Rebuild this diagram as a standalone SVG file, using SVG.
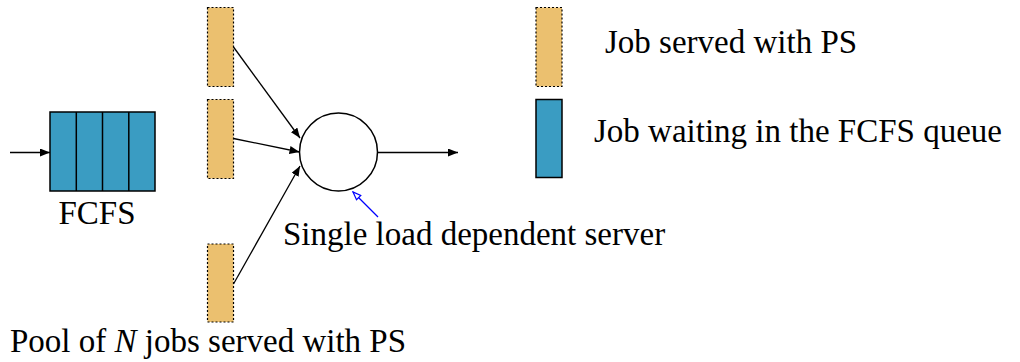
<svg xmlns="http://www.w3.org/2000/svg" width="1020" height="362" viewBox="0 0 1020 362">
<defs>
<marker id="ah" viewBox="0 0 10 8" refX="10" refY="4" markerWidth="10" markerHeight="8" markerUnits="userSpaceOnUse" orient="auto">
<path d="M0,0 L10,4 L0,8 Z" fill="#000"/>
</marker>
<marker id="oh" viewBox="0 0 10 8" refX="9" refY="4" markerWidth="10" markerHeight="8" markerUnits="userSpaceOnUse" orient="auto">
<path d="M1,1 L9,4 L1,7 Z" fill="#fff" stroke="#00f" stroke-width="1.2"/>
</marker>
</defs>
<g id="fcfs-queue">
<rect x="50" y="112" width="105" height="79" fill="#3A9CC2" stroke="#000" stroke-width="1.5"/>
<g stroke="#000" stroke-width="1.5">
<line x1="76.3" y1="112" x2="76.3" y2="191"/>
<line x1="102.5" y1="112" x2="102.5" y2="191"/>
<line x1="128.8" y1="112" x2="128.8" y2="191"/>
</g>
<text x="97" y="224" font-size="33" font-family="Liberation Serif" text-anchor="middle">FCFS</text>
</g>
<g fill="#EBC06F" stroke="#000" stroke-width="1.2" stroke-dasharray="2 2">
<g id="ps-job-1"><rect x="207.5" y="7.5" width="26" height="79"/></g>
<g id="ps-job-2"><rect x="207.5" y="99.5" width="26" height="79"/></g>
<g id="ps-job-3"><rect x="207.5" y="244" width="26" height="78"/></g>
</g>
<g id="server">
<circle cx="338.5" cy="152" r="39" fill="#fff" stroke="#000" stroke-width="1.5"/>
</g>
<g id="legend-ps">
<rect x="536" y="7.5" width="26" height="79" fill="#EBC06F" stroke="#000" stroke-width="1.2" stroke-dasharray="2 2"/>
<text x="605" y="53" font-size="33" font-family="Liberation Serif">Job served with PS</text>
</g>
<g id="legend-fcfs">
<rect x="536" y="99.5" width="26" height="78" fill="#3A9CC2" stroke="#000" stroke-width="1.5"/>
<text x="594" y="142" font-size="33" font-family="Liberation Serif">Job waiting in the FCFS queue</text>
</g>
<g id="labels">
<text x="283" y="245" font-size="33" font-family="Liberation Serif">Single load dependent server</text>
<text x="10" y="352" font-size="33" font-family="Liberation Serif">Pool of <tspan font-style="italic">N</tspan> jobs served with PS</text>
</g>
<g id="connectors" stroke="#000" stroke-width="1.3" fill="none">
<line x1="10" y1="152.5" x2="50" y2="152.5" marker-end="url(#ah)"/>
<line x1="233.5" y1="47" x2="300" y2="138" marker-end="url(#ah)"/>
<line x1="233.5" y1="138.5" x2="299.5" y2="152" marker-end="url(#ah)"/>
<line x1="233.5" y1="284" x2="300" y2="166" marker-end="url(#ah)"/>
<line x1="378" y1="152.5" x2="458" y2="152.5" marker-end="url(#ah)"/>
<line x1="378" y1="217" x2="353" y2="192" stroke="#00f" marker-end="url(#oh)"/>
</g>
</svg>
